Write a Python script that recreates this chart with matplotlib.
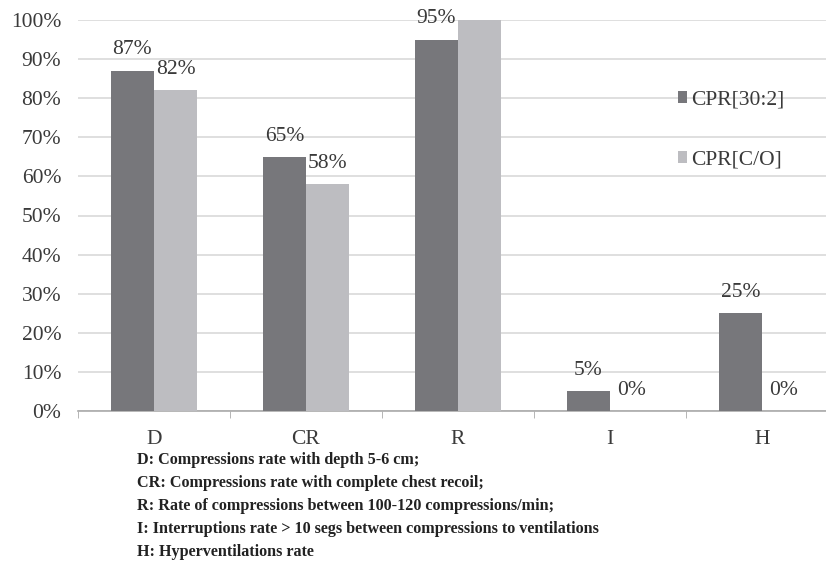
import numpy as np
import matplotlib
matplotlib.use("Agg")
import matplotlib.pyplot as plt
from matplotlib.ticker import FixedLocator, PercentFormatter

categories = ["D", "CR", "R", "I", "H"]
cpr_30_2 = [87, 65, 95, 5, 25]
cpr_co   = [82, 58, 100, 0, 0]
labels_30_2 = ["87%", "65%", "95%", "5%", "25%"]
labels_co   = ["82%", "58%", None, "0%", "0%"]
series_names = ["CPR[30:2]", "CPR[C/O]"]
notes = [
    "D: Compressions rate with depth 5-6 cm;",
    "CR: Compressions rate with complete chest recoil;",
    "R: Rate of compressions between 100-120 compressions/min;",
    "I: Interruptions rate > 10 segs between compressions to ventilations",
    "H: Hyperventilations rate",
]

DARK, LIGHT = "#77777b", "#bdbdc1"
TXT = "#3a3a3a"
FS = 15.5
plt.rcParams["font.family"] = ["Liberation Serif", "DejaVu Serif"]

fig = plt.figure(figsize=(8.26, 5.79), dpi=100)
ax = fig.add_axes([78 / 826, 168 / 579, 760 / 826, 391 / 579])

x = np.arange(len(categories))
w = 0.285
b1 = ax.bar(x - w / 2, cpr_30_2, w, color=DARK, label=series_names[0], zorder=3)
b2 = ax.bar(x + w / 2, cpr_co, w, color=LIGHT, label=series_names[1], zorder=3)

for bars, labs in ((b1, labels_30_2), (b2, labels_co)):
    for bar, lab in zip(bars, labs):
        if lab is None:
            continue
        ax.annotate(lab, (bar.get_x() + bar.get_width() / 2, bar.get_height()),
                    xytext=(0, 15), textcoords="offset points", ha="center",
                    va="center", fontsize=FS, color=TXT)

ax.set_xlim(-0.5, len(categories) - 0.5)
ax.set_ylim(0, 100)
ax.set_yticks(np.arange(0, 101, 10))
ax.yaxis.set_major_formatter(PercentFormatter(decimals=0))
ax.tick_params(axis="y", length=0, labelsize=FS, labelcolor=TXT, pad=12)
ax.yaxis.grid(True, color="#d9d9d9", lw=1.2, zorder=0)

ax.set_xticks(x)
ax.set_xticklabels(categories)
ax.xaxis.set_minor_locator(FixedLocator(np.arange(-0.5, len(categories), 1)))
ax.tick_params(axis="x", which="major", length=0, labelsize=FS,
               labelcolor=TXT, pad=14)
ax.tick_params(axis="x", which="minor", length=5, color="#aaaaaa", direction="out")

for s in ("top", "right", "left"):
    ax.spines[s].set_visible(False)
ax.spines["bottom"].set_color("#aaaaaa")
ax.spines["bottom"].set_linewidth(1.2)

ax.legend(loc="upper left", bbox_to_anchor=(667 / 826, 1 - 80 / 579),
          bbox_transform=fig.transFigure, frameon=False, fontsize=FS,
          handlelength=0.45, handleheight=0.45, handletextpad=0.15,
          labelspacing=1.9, borderpad=0, labelcolor=TXT)

for i, line in enumerate(notes):
    fig.text(137 / 826, 1 - (460 + 23 * i) / 579, line, fontsize=11.6,
             fontweight="bold", color="#222222", va="center", ha="left")

fig.savefig("out.png", dpi=100)
